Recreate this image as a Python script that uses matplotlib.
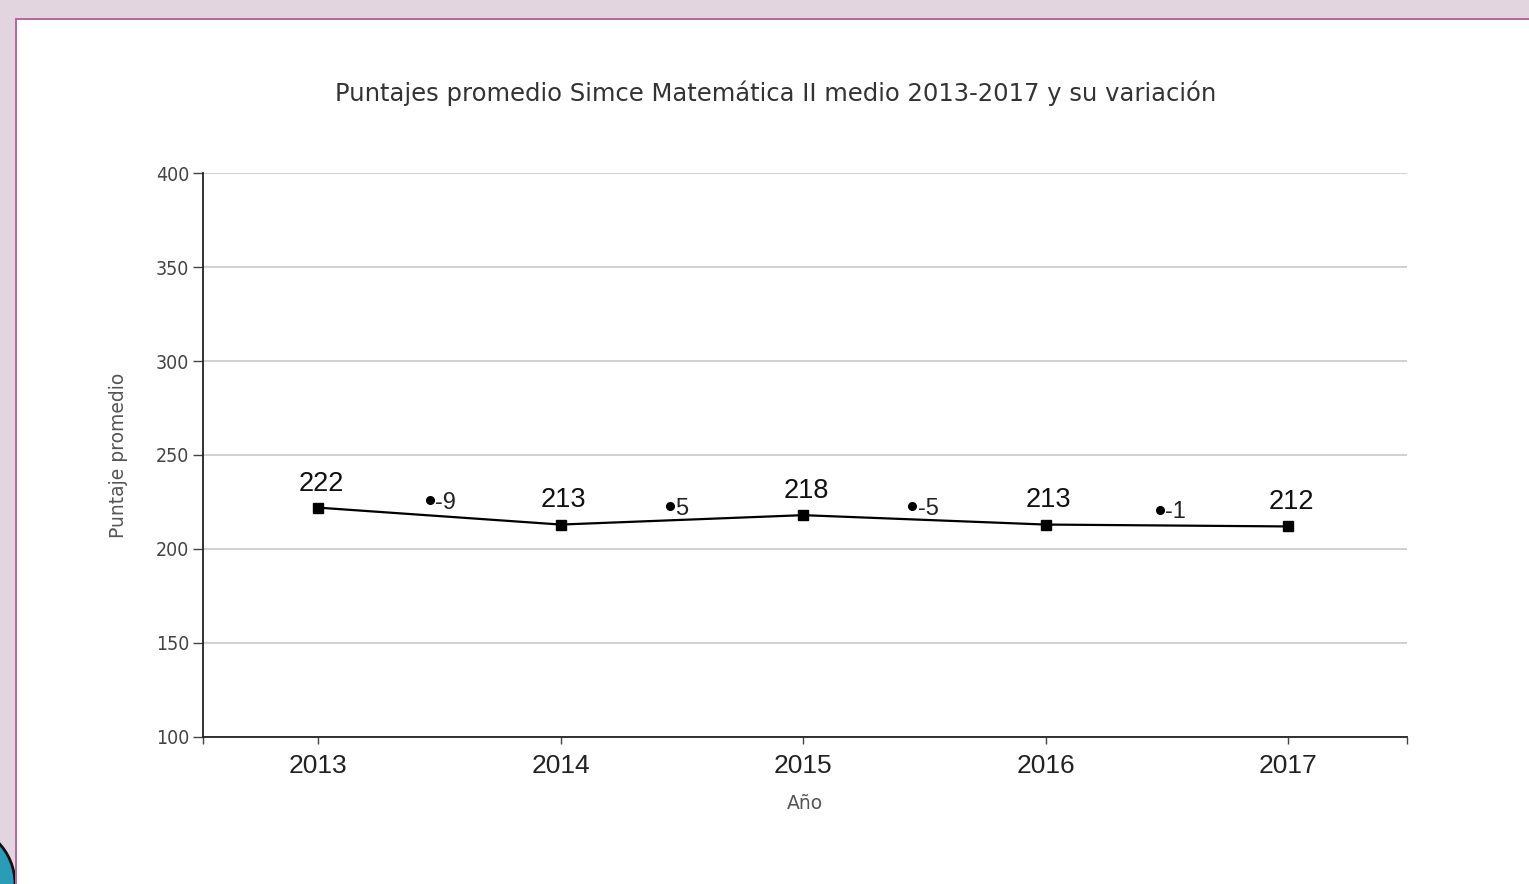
import matplotlib
matplotlib.use('Agg')
import matplotlib.pyplot as plt
from matplotlib.patches import Rectangle, Circle

# Puntajes promedio Simce Matematica II medio
years = ['2013', '2014', '2015', '2016', '2017']
scores = [222, 213, 218, 213, 212]

# variacion entre anos (puntos entre cada par de anos)
var_pos = [0.46, 1.45, 2.45, 3.47]
var_height = [226, 223, 223, 221]
var_labels = ['-9', '5', '-5', '-1']

yticks = [100, 150, 200, 250, 300, 350, 400]

fig = plt.figure(figsize=(15.29, 8.84), dpi=100)
fig.patch.set_facecolor('#e2d5df')

# white panel with magenta border, like the screenshot
W, H = 1529, 884
corner = Circle((-45, 0), 60, facecolor='#2a9cb8', edgecolor='#111111', linewidth=2, zorder=-3)
corner.set_transform(None)  # pixel coordinates
fig.patches.append(corner)
fig.patches.append(Rectangle((16 / W, 0), 1, (H - 19) / H, transform=fig.transFigure,
                             facecolor='white', edgecolor='none', zorder=-2))
fig.patches.append(Rectangle((15 / W, 0), 2 / W, (H - 18) / H, transform=fig.transFigure,
                             facecolor='#b7699f', edgecolor='none', zorder=-1))
fig.patches.append(Rectangle((15 / W, (H - 20) / H), 1, 2 / H, transform=fig.transFigure,
                             facecolor='#b7699f', edgecolor='none', zorder=-1))

ax = fig.add_axes([203 / W, 147 / H, 1204 / W, 564 / H])
ax.set_facecolor('none')
ax.set_zorder(2)

x = list(range(len(years)))
ax.plot(x, scores, color='black', linewidth=1.6, marker='s', markersize=6.5, zorder=3)
for xi, s in zip(x, scores):
    ax.annotate(str(s), (xi, s), xytext=(2, 8), textcoords='offset points',
                ha='center', va='bottom', fontsize=19.5, family='Liberation Sans', color='#111111')

ax.plot(var_pos, var_height, linestyle='none', marker='o', markersize=5.5, color='black', zorder=3)
for xp, yp, lab in zip(var_pos, var_height, var_labels):
    ax.annotate(lab, (xp, yp), xytext=(4, -2), textcoords='offset points',
                ha='left', va='center', fontsize=17, family='Liberation Sans', color='#222222')

ax.set_xlim(-0.475, 4.49)
ax.set_ylim(100, 400)
ax.set_yticks(yticks)
ax.set_xticks(x)
ax.set_xticklabels(years, fontsize=19, family='Liberation Sans', color='#222222')
ax.set_xticks([-0.475, 4.49], minor=True)
ax.tick_params(axis='x', which='both', length=5, width=1, color='#444444', pad=7)
ax.tick_params(axis='y', length=7, width=1, color='#444444', labelsize=14, labelcolor='#444444', pad=3)
for lab in ax.get_yticklabels():
    lab.set_family('DejaVu Sans')
    lab.set_stretch('condensed')

ax.grid(axis='y', color='#c8c8c8', linewidth=1.2)
ax.set_axisbelow(True)
for side in ['top', 'right']:
    ax.spines[side].set_visible(False)
for side in ['left', 'bottom']:
    ax.spines[side].set_color('#222222')
    ax.spines[side].set_linewidth(1.3)

ax.set_ylabel('Puntaje promedio', fontsize=13.5, color='#555555', labelpad=20)
ax.set_xlabel('Año', fontsize=13.5, color='#555555', labelpad=12)

fig.text(776 / W, 1 - 93 / H, 'Puntajes promedio Simce Matemática II medio 2013-2017 y su variación',
         ha='center', va='center', fontsize=17.5, color='#333333')

fig.savefig('out.png', dpi=100)
